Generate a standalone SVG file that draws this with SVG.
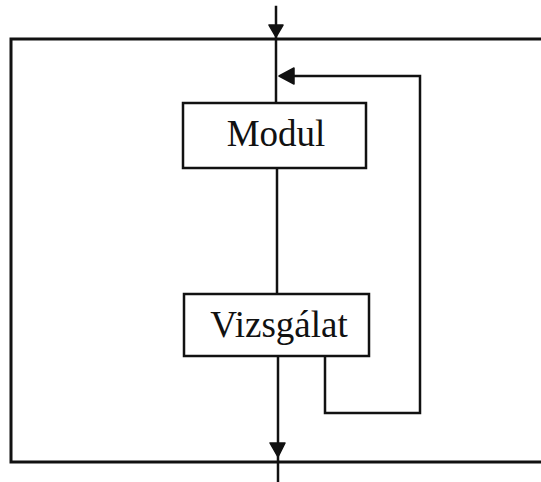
<svg xmlns="http://www.w3.org/2000/svg" width="541" height="482" viewBox="0 0 541 482">
<style>
.ln{fill:none;stroke:#111;stroke-width:2.5;stroke-linecap:square}
.box{fill:#fff;stroke:#111;stroke-width:2.5}
.lbl{font-family:"Liberation Serif","Times New Roman",serif;font-size:37px;fill:#111;text-anchor:middle}
.ah{fill:#111;stroke:#111;stroke-width:1.5;stroke-linejoin:round}
</style>
<rect x="0" y="0" width="541" height="482" fill="#fff"/>
<g id="frame">
<path class="ln" d="M560 39 H11 V462 H560" style="stroke-width:3"/>
</g>
<g id="connectors">
<path class="ln" d="M276 7 V103"/>
<path class="ln" d="M277 168 V294"/>
<path class="ln" d="M278 356 V482"/>
<path class="ln" d="M325 356 V413 H420 V76 H292"/>
<path class="ah" d="M269 25 L283 25 L276 37 Z"/>
<path class="ah" d="M279 76 L294 68 L294 84 Z"/>
<path class="ah" d="M270 443 L285 443 L278 457 Z"/>
</g>
<g id="modul">
<rect class="box" x="183" y="103" width="183" height="65"/>
<text class="lbl" x="276" y="146">Modul</text>
</g>
<g id="vizsgalat">
<rect class="box" x="184" y="294" width="185" height="62"/>
<text class="lbl" x="279" y="337">Vizsgálat</text>
</g>
</svg>
